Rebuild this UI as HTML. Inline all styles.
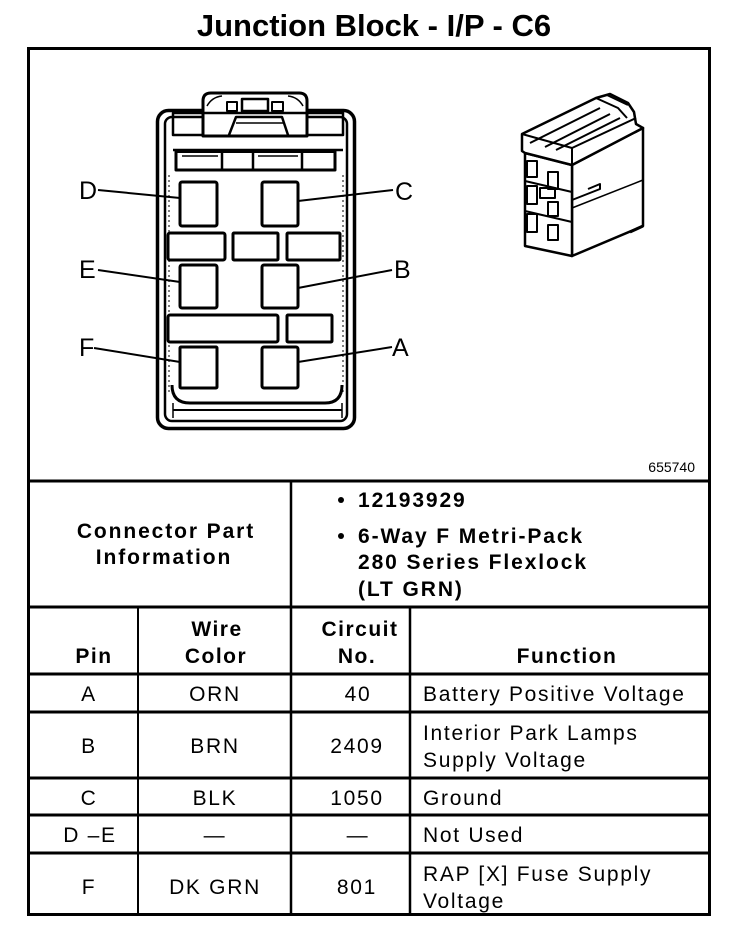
<!DOCTYPE html>
<html>
<head>
<meta charset="utf-8">
<style>
  html,body{margin:0;padding:0;background:#fff;}
  body{width:752px;height:926px;overflow:hidden;}
  svg{display:block;}
  text{font-family:"Liberation Sans",Arial,sans-serif;fill:#000;}
  .b{font-weight:bold;}
</style>
</head>
<body>
<svg width="752" height="926" viewBox="0 0 752 926" xmlns="http://www.w3.org/2000/svg">
  <rect x="0" y="0" width="752" height="926" fill="#fff"/>

  <!-- Title -->
  <text x="374" y="36" font-size="31" class="b" text-anchor="middle">Junction Block - I/P - C6</text>

  <!-- Outer frame -->
  <rect x="28.5" y="48.5" width="681" height="866" fill="none" stroke="#000" stroke-width="3"/>

  <!-- ===== Connector face drawing ===== -->
  <g fill="none" stroke="#000" stroke-linejoin="round">
    <!-- body -->
    <rect x="157.5" y="110.5" width="197" height="318" rx="11" stroke-width="3.5"/>
    <rect x="165" y="117" width="182" height="304" rx="7" stroke-width="2.5"/>
    <line x1="169" y1="175" x2="169" y2="395" stroke-width="1" stroke-dasharray="2,3"/>
    <line x1="343" y1="175" x2="343" y2="395" stroke-width="1" stroke-dasharray="2,3"/>
    <!-- top band -->
    <rect x="173" y="113" width="170" height="22" stroke-width="2.5"/>
    <line x1="173" y1="150" x2="343" y2="150" stroke-width="2.5"/>
    <rect x="176" y="151.5" width="159" height="18.5" stroke-width="3"/>
    <line x1="222" y1="152" x2="222" y2="170" stroke-width="2.5"/>
    <line x1="253" y1="152" x2="253" y2="170" stroke-width="2.5"/>
    <line x1="302" y1="152" x2="302" y2="170" stroke-width="2.5"/>
    <line x1="182" y1="156" x2="218" y2="156" stroke-width="1.5"/>
    <line x1="258" y1="156" x2="298" y2="156" stroke-width="1.5"/>
    <!-- latch -->
    <path d="M203,136 V101 Q203,93 211,93 H299 Q307,93 307,101 V136 Z" fill="#fff" stroke-width="3"/>
    <line x1="203" y1="113" x2="307" y2="113" stroke-width="2.5"/>
    <rect x="227" y="102" width="10" height="9" stroke-width="2"/>
    <rect x="242" y="99" width="26" height="12" stroke-width="2.5"/>
    <rect x="272" y="102" width="11" height="9" stroke-width="2"/>
    <path d="M229,135 L236,117 H282 L288,135" stroke-width="2.5"/>
    <line x1="236" y1="123" x2="284" y2="123" stroke-width="1.5"/>
    <path d="M207,106 Q212,97 222,96" stroke-width="1.5"/>
    <path d="M303,106 Q298,97 288,96" stroke-width="1.5"/>

    <!-- pin cavities -->
    <rect x="180" y="182" width="37" height="44" rx="2" stroke-width="3"/>
    <rect x="262" y="182" width="36" height="44" rx="2" stroke-width="3"/>
    <rect x="180" y="265" width="37" height="43" rx="2" stroke-width="3"/>
    <rect x="262" y="265" width="36" height="43" rx="2" stroke-width="3"/>
    <rect x="180" y="347" width="37" height="41" rx="1" stroke-width="3"/>
    <rect x="262" y="347" width="36" height="41" rx="2" stroke-width="3"/>

    <!-- bars -->
    <rect x="168" y="233" width="57" height="27" rx="2" stroke-width="3"/>
    <rect x="233" y="233" width="45" height="27" rx="1" stroke-width="3"/>
    <rect x="287" y="233" width="53" height="27" rx="1" stroke-width="3"/>
    <rect x="168" y="315" width="110" height="27" rx="2" stroke-width="3"/>
    <rect x="287" y="315" width="45" height="27" rx="1" stroke-width="3"/>

    <!-- bottom -->
    <path d="M172,385 Q172,403 190,403 H325 Q342,403 342,385" stroke-width="3"/>
    <line x1="173" y1="410" x2="342" y2="410" stroke-width="2"/>
    <line x1="173" y1="403" x2="173" y2="418" stroke-width="1.5"/>
    <line x1="342" y1="403" x2="342" y2="418" stroke-width="1.5"/>

    <!-- leader lines -->
    <line x1="98" y1="190" x2="180" y2="198" stroke-width="2"/>
    <line x1="298" y1="201" x2="393" y2="190" stroke-width="2"/>
    <line x1="98" y1="270" x2="180" y2="282" stroke-width="2"/>
    <line x1="298" y1="288" x2="392" y2="270" stroke-width="2"/>
    <line x1="94" y1="348" x2="180" y2="362" stroke-width="2"/>
    <line x1="298" y1="362" x2="392" y2="347" stroke-width="2"/>
  </g>

  <!-- pin letters -->
  <text x="79" y="199" font-size="25">D</text>
  <text x="395" y="200" font-size="25">C</text>
  <text x="79" y="278" font-size="25">E</text>
  <text x="394" y="278" font-size="25">B</text>
  <text x="79" y="356" font-size="25">F</text>
  <text x="392" y="356" font-size="25">A</text>

  <!-- ===== 3D connector ===== -->
  <g fill="#fff" stroke="#000" stroke-width="2.5" stroke-linejoin="round">
    <path d="M572,165 L643,128 L643,226 L572,256 Z"/>
    <path d="M525,153 L572,165 L572,256 L525,246 Z"/>
    <path d="M522,151 L522,134 L596,98 L610,94 L628,103 L634,112 L636,124 L643,128 L572,165 L525,153 Z"/>
  </g>
  <g fill="none" stroke="#000" stroke-width="2" stroke-linejoin="round">
    <path d="M522,134 L572,148 L572,165"/>
    <path d="M572,148 L636,118"/>
    <line x1="530" y1="143" x2="600" y2="108"/>
    <line x1="545" y1="147" x2="610" y2="114"/>
    <line x1="556" y1="150" x2="620" y2="118"/>
    <path d="M596,98 L618,108 L627,118"/>
    <path d="M607,95 L628,105"/>
    <!-- front face rows -->
    <line x1="525" y1="181" x2="572" y2="192"/>
    <line x1="525" y1="211" x2="572" y2="222"/>
    <rect x="527" y="161" width="10" height="16"/>
    <rect x="548" y="172" width="10" height="17"/>
    <rect x="527" y="186" width="10" height="18"/>
    <rect x="540" y="188" width="15" height="10"/>
    <rect x="548" y="202" width="10" height="14"/>
    <rect x="527" y="214" width="10" height="18"/>
    <rect x="548" y="225" width="10" height="15"/>
    <!-- right face slot -->
    <path d="M572,200 L600,189 L600,184 L588,189"/>
    <line x1="572" y1="208" x2="643" y2="180" stroke-width="1.5"/>
    <line x1="630" y1="232" x2="643" y2="226" stroke-width="3"/>
  </g>

  <!-- figure number -->
  <text x="695" y="472" font-size="14" text-anchor="end">655740</text>

  <!-- ===== Table lines ===== -->
  <g stroke="#000" fill="none">
    <line x1="28" y1="481" x2="710" y2="481" stroke-width="3"/>
    <line x1="28" y1="607" x2="710" y2="607" stroke-width="3"/>
    <line x1="28" y1="674" x2="710" y2="674" stroke-width="3"/>
    <line x1="28" y1="712" x2="710" y2="712" stroke-width="3"/>
    <line x1="28" y1="778" x2="710" y2="778" stroke-width="3"/>
    <line x1="28" y1="815" x2="710" y2="815" stroke-width="3"/>
    <line x1="28" y1="853" x2="710" y2="853" stroke-width="3"/>
    <line x1="291" y1="481" x2="291" y2="915" stroke-width="2.5"/>
    <line x1="138" y1="607" x2="138" y2="915" stroke-width="2"/>
    <line x1="410" y1="607" x2="410" y2="915" stroke-width="2.5"/>
  </g>

  <!-- Connector part info -->
  <g font-size="21" class="b" letter-spacing="1.9">
    <text x="166" y="538" text-anchor="middle">Connector Part</text>
    <text x="164" y="564" text-anchor="middle">Information</text>
    <text x="358" y="507">12193929</text>
    <text x="358" y="543">6-Way F Metri-Pack</text>
    <text x="358" y="569">280 Series Flexlock</text>
    <text x="358" y="596">(LT GRN)</text>
  </g>
  <circle cx="341" cy="500" r="3" fill="#000"/>
  <circle cx="341" cy="536" r="3" fill="#000"/>

  <!-- Header -->
  <g font-size="21" class="b" letter-spacing="1.5" text-anchor="middle">
    <text x="94" y="663">Pin</text>
    <text x="217" y="636">Wire</text>
    <text x="216" y="663">Color</text>
    <text x="360" y="636">Circuit</text>
    <text x="357" y="663">No.</text>
    <text x="567" y="663">Function</text>
  </g>

  <!-- Rows -->
  <g font-size="21" letter-spacing="1.7">
    <g text-anchor="middle">
      <text x="89" y="701">A</text>
      <text x="215" y="701">ORN</text>
      <text x="358" y="701">40</text>

      <text x="89" y="753">B</text>
      <text x="215" y="753">BRN</text>
      <text x="357" y="753">2409</text>

      <text x="89" y="805">C</text>
      <text x="215" y="805">BLK</text>
      <text x="357" y="805">1050</text>

      <text x="90" y="842">D –E</text>
      <text x="215" y="842">—</text>
      <text x="358" y="842">—</text>

      <text x="89" y="894">F</text>
      <text x="215" y="894">DK GRN</text>
      <text x="357" y="894">801</text>
    </g>
    <text x="423" y="701">Battery Positive Voltage</text>
    <text x="423" y="740">Interior Park Lamps</text>
    <text x="423" y="767">Supply Voltage</text>
    <text x="423" y="805">Ground</text>
    <text x="423" y="842">Not Used</text>
    <text x="423" y="881">RAP [X] Fuse Supply</text>
    <text x="423" y="908">Voltage</text>
  </g>
</svg>
</body>
</html>
